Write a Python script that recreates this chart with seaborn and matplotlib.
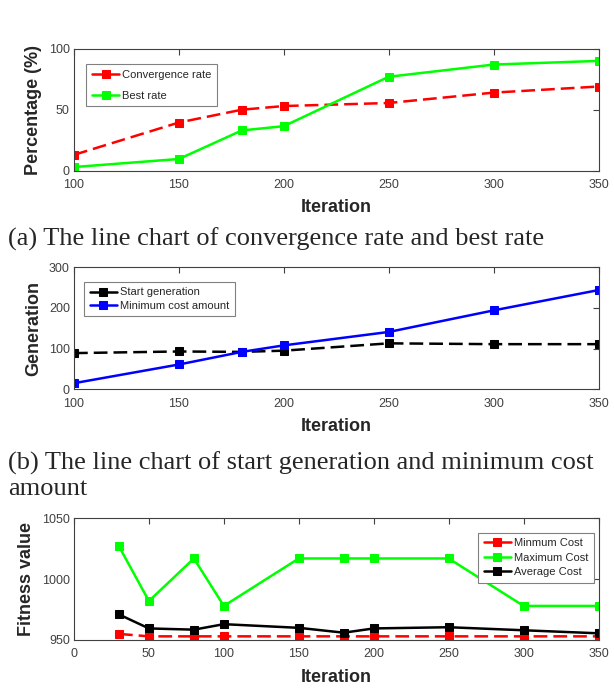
import matplotlib
matplotlib.use("Agg")
import matplotlib.pyplot as plt
import seaborn as sns
import numpy as np

# ---------------- data ----------------
iter_ab = [100, 150, 180, 200, 250, 300, 350]
convergence_rate = [13, 39.5, 50, 53, 55.5, 64, 69]
best_rate = [3, 9.6, 33, 36.5, 77, 87, 90]

start_generation = [89, 93, 92, 95, 113, 111, 111]
minimum_cost_amount = [15, 61, 92, 108, 141, 194, 244]

iter_c = [30, 50, 80, 100, 150, 180, 200, 250, 300, 350]
minimum_cost = [955, 953, 953, 953, 953, 953, 953, 953, 953, 953]
maximum_cost = [1027, 982, 1017, 978, 1017, 1017, 1017, 1017, 978, 978]
average_cost = [971, 959.5, 958.5, 963, 960, 956, 959.5, 960.5, 958, 955.5]

xticks_ab = [100, 150, 200, 250, 300, 350]
xticks_c = [0, 50, 100, 150, 200, 250, 300, 350]
yticks_a = [0, 50, 100]
yticks_b = [0, 100, 200, 300]
yticks_c = [950, 1000, 1050]

caption_a = "(a) The line chart of convergence rate and best rate"
caption_b1 = "(b) The line chart of start generation and minimum cost"
caption_b2 = "amount"

# ---------------- style ----------------
sns.set_style("white")
plt.rcParams['font.family'] = ['Liberation Sans', 'DejaVu Sans']

W, H = 614, 689
fig = plt.figure(figsize=(W / 100, H / 100), dpi=100)

def axrect(left, top, right, bottom):
    return [left / W, 1 - bottom / H, (right - left) / W, (bottom - top) / H]

ax_a = fig.add_axes(axrect(74, 48.7, 598.5, 170.7))
ax_b = fig.add_axes(axrect(74, 267.3, 598.5, 389.3))
ax_c = fig.add_axes(axrect(74, 518.3, 598.5, 640))

LW = 1.8
MS = 5.5
DASH = (5.5, 2.4)

def draw(ax, x, y, color, label, dashed):
    sns.lineplot(x=x, y=y, color=color, marker='s', markersize=MS, linewidth=LW,
                 markeredgecolor=color, label=label, ax=ax)
    ln = ax.get_lines()[-1]
    if dashed:
        ln.set_dashes(DASH)

def style_ax(ax, xlim, xticks, ylim, yticks, ylabel, legend_anchor, legend_loc, labelspacing):
    ax.set_xlim(*xlim)
    ax.set_ylim(*ylim)
    ax.set_xticks(xticks)
    ax.set_yticks(yticks)
    ax.tick_params(direction='in', length=4, width=0.8, top=True, right=True,
                   labelsize=9, labelcolor='#404040', color='#404040')
    ax.tick_params(axis='x', pad=6)
    ax.tick_params(axis='y', pad=3)
    for s in ax.spines.values():
        s.set_color('#404040')
        s.set_linewidth(0.8)
        s.set_visible(True)
    ax.set_xlabel('Iteration', fontsize=13, fontweight='bold', color='#262626', labelpad=6)
    ax.set_ylabel(ylabel, fontsize=13, fontweight='bold', color='#262626', labelpad=5)
    leg = ax.legend(loc=legend_loc, bbox_to_anchor=legend_anchor, borderaxespad=0,
                    fontsize=8, frameon=True, fancybox=False, framealpha=1,
                    edgecolor='#808080', handlelength=2.5, handletextpad=0.25,
                    borderpad=0.5, labelspacing=labelspacing)
    leg.get_frame().set_linewidth(0.8)
    for t in leg.get_texts():
        t.set_color('#262626')

# panel a
draw(ax_a, iter_ab, convergence_rate, '#FF0000', 'Convergence rate', True)
draw(ax_a, iter_ab, best_rate, '#00FF00', 'Best rate', False)
style_ax(ax_a, (100, 350), xticks_ab, (0, 100), yticks_a, 'Percentage (%)',
         (0.023, 0.875), 'upper left', 1.0)

# panel b
draw(ax_b, iter_ab, start_generation, '#000000', 'Start generation', True)
draw(ax_b, iter_ab, minimum_cost_amount, '#0000FF', 'Minimum cost amount', False)
style_ax(ax_b, (100, 350), xticks_ab, (0, 300), yticks_b, 'Generation',
         (0.019, 0.88), 'upper left', 0.3)

# panel c
draw(ax_c, iter_c, minimum_cost, '#FF0000', 'Minmum Cost', True)
draw(ax_c, iter_c, maximum_cost, '#00FF00', 'Maximum Cost', False)
draw(ax_c, iter_c, average_cost, '#000000', 'Average Cost', False)
style_ax(ax_c, (0, 350), xticks_c, (950, 1050), yticks_c, 'Fitness value',
         (0.9914, 0.882), 'upper right', 0.4)

# legend handles: solid lines (as in reference)
for ax in (ax_a, ax_b, ax_c):
    for h in ax.get_legend().get_lines():
        h.set_linestyle('-')

# captions
serif = ['Liberation Serif', 'DejaVu Serif']
fig.text(8 / W, 1 - 246 / H, caption_a, family=serif, fontsize=19, va='baseline', ha='left')
fig.text(8 / W, 1 - 470 / H, caption_b1, family=serif, fontsize=19, va='baseline', ha='left')
fig.text(8 / W, 1 - 495 / H, caption_b2, family=serif, fontsize=19, va='baseline', ha='left')

fig.savefig('out.png', dpi=100)
